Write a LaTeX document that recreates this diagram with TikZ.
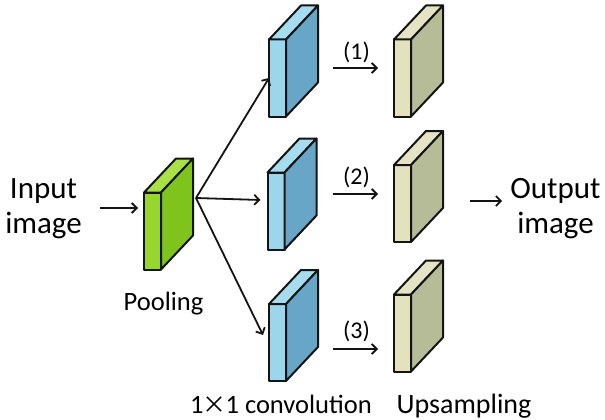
\documentclass[tikz,border=0pt]{standalone}
\usepackage{fontspec}
\setmainfont{Carlito}
\newfontfamily\cjk{Noto Sans CJK SC}
\usetikzlibrary{arrows.meta}

\definecolor{greenfront}{RGB}{150,214,46}
\definecolor{greenside}{RGB}{126,196,28}
\definecolor{greentop}{RGB}{168,224,70}
\definecolor{bluefront}{RGB}{156,214,234}
\definecolor{blueside}{RGB}{104,166,200}
\definecolor{bluetop}{RGB}{166,220,238}
\definecolor{beigefront}{RGB}{226,226,190}
\definecolor{beigeside}{RGB}{182,187,152}
\definecolor{beigetop}{RGB}{228,228,196}
\definecolor{ink}{RGB}{20,20,20}

\tikzset{
  slabface/.style={draw=ink, line width=2pt, rectangle, inner sep=0pt, outer sep=0pt,
    minimum width=17pt, minimum height=77pt, line join=round},
  slabedge/.style={draw=ink, line width=2pt, line join=round},
  % a thin feature-map slab: front face plus top and side faces
  slab/.pic={
    \node[slabface, fill=#1front] (-front) {};
    \draw[slabedge, fill=#1top] (-front.north west) -- ++(32pt,34pt) -- ++(17pt,0pt)
      -- (-front.north east) -- cycle;
    \draw[slabedge, fill=#1side] (-front.north east) -- ++(32pt,34pt) -- ++(0pt,-77pt)
      -- (-front.south east) -- cycle;
  },
  flow/.style={draw=ink, line width=1.8pt, -{Straight Barb[length=5pt,width=10pt]}},
  big/.style={font=\fontsize{31}{35}\selectfont, align=center, inner sep=0pt},
  mid/.style={font=\fontsize{28}{32}\selectfont, inner sep=0pt},
  small/.style={font=\fontsize{26.5}{30}\selectfont, inner sep=0pt},
  num/.style={font=\fontsize{24}{28}\selectfont, inner sep=0pt},
}

\begin{document}
\begin{tikzpicture}[x=1pt, y=-1pt]
  \useasboundingbox (0,0) rectangle (605,420);

  % slabs
  \pic (g)  at (152.5,231)   {slab=green};
  \pic (b1) at (277.5,78)    {slab=blue};
  \pic (b2) at (276,211)     {slab=blue};
  \pic (b3) at (277.5,342.5) {slab=blue};
  \pic (u1) at (402.5,78)    {slab=beige};
  \pic (u2) at (402.5,203.5) {slab=beige};
  \pic (u3) at (402.5,333)   {slab=beige};

  % texts
  \node[big] (in)  at (43.5,209)  {Input\\image};
  \node[big] (out) at (555.5,209) {Output\\image};
  \node[small, anchor=base] (pool) at (163.5,310) {Pooling};
  \node[mid, anchor=base, font=\fontsize{26.5}{30}\selectfont] (conv) at (281,413)
    {1\kern-1pt{\cjk\fontsize{24}{28}\selectfont ×}\kern-1pt1 convolution};
  \node[mid, anchor=base] (ups)  at (464,413) {Upsampling};
  \node[num] (l1) at (356.5,52)  {(1)};
  \node[num] (l2) at (356.5,177) {(2)};
  \node[num] (l3) at (356.5,331) {(3)};

  % connectors
  \draw[flow] ([shift={(18,-1)}]in.east) -- ([shift={(-6,-23)}]g-front.west);
  \coordinate (fan) at ([shift={(35,-33)}]g-front.east);
  \draw[flow] (fan) -- (b1-front.west);
  \draw[flow] (fan) -- ([shift={(-7,-11)}]b2-front.west);
  \draw[flow] (fan) -- ([shift={(-6,-7.5)}]b3-front.west);
  \draw[flow] ([shift={(47,-10)}]b1-front.east) -- ([shift={(-16,-10)}]u1-front.west);
  \draw[flow] ([shift={(48,-17)}]b2-front.east) -- ([shift={(-16,-9.5)}]u2-front.west);
  \draw[flow] ([shift={(47,6.5)}]b3-front.east) -- ([shift={(-16,16)}]u3-front.west);
  \draw[flow] ([shift={(-40,-8)}]out.west) -- ([shift={(-8,-8)}]out.west);
\end{tikzpicture}
\end{document}
